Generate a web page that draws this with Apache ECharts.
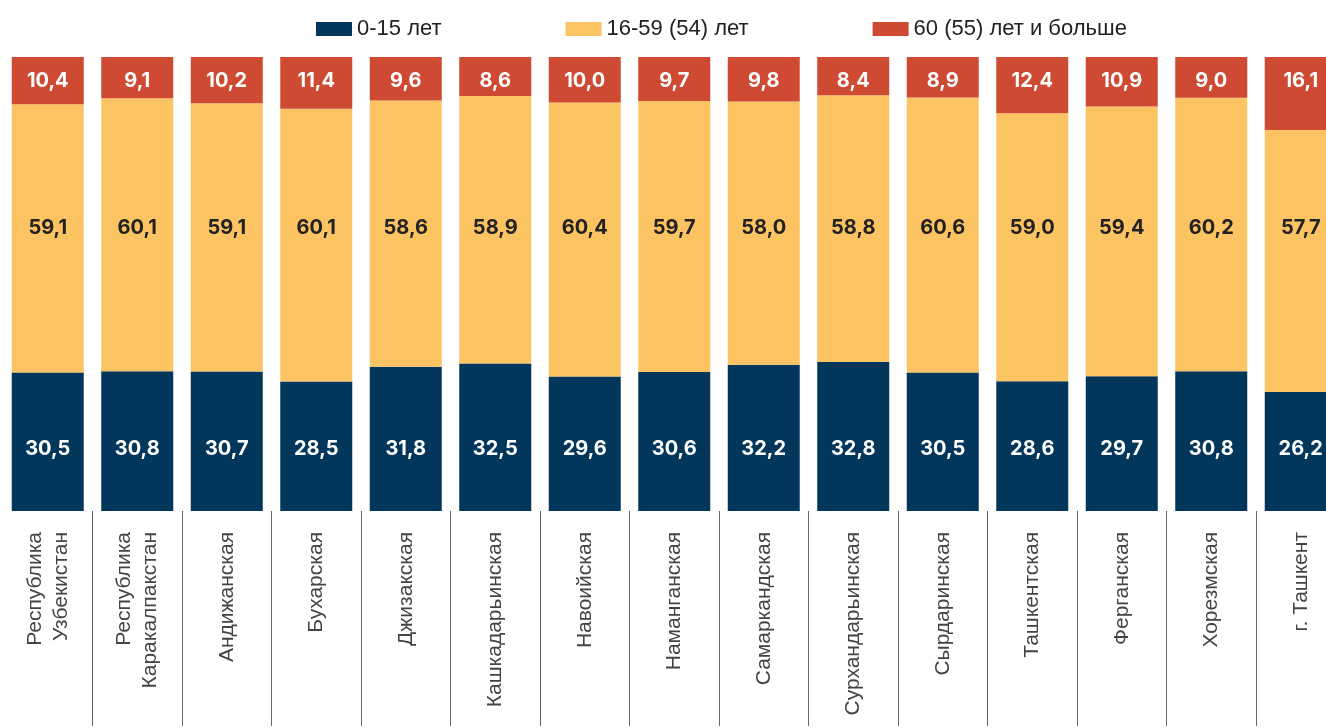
<!DOCTYPE html>
<html>
<head>
<meta charset="utf-8">
<script src="https://cdn.jsdelivr.net/npm/echarts@6/dist/echarts.min.js"></script>
<style>
  html, body { margin: 0; padding: 0; background: #fff; overflow: hidden; }
  #chart { width: 1346px; height: 728px; }
</style>
</head>
<body>
<div id="chart"></div>
<script>
var regions = ['Республика\nУзбекистан', 'Республика\nКаракалпакстан', 'Андижанская', 'Бухарская',
  'Джизакская', 'Кашкадарьинская', 'Навоийская', 'Наманганская', 'Самаркандская',
  'Сурхандарьинская', 'Сырдаринская', 'Ташкентская', 'Ферганская', 'Хорезмская', 'г. Ташкент'];
var young = [30.5, 30.8, 30.7, 28.5, 31.8, 32.5, 29.6, 30.6, 32.2, 32.8, 30.5, 28.6, 29.7, 30.8, 26.2];
var working = [59.1, 60.1, 59.1, 60.1, 58.6, 58.9, 60.4, 59.7, 58.0, 58.8, 60.6, 59.0, 59.4, 60.2, 57.7];
var old = [10.4, 9.1, 10.2, 11.4, 9.6, 8.6, 10.0, 9.7, 9.8, 8.4, 8.9, 12.4, 10.9, 9.0, 16.1];
// в оригинале подписи средней группы стоят на одной высоте
var workingLabelLevel = 62.3;

var myChart = echarts.init(document.getElementById('chart'));

function fmt(p) {
  return p.value.toFixed(1).replace('.', ',');
}
function lbl(color, position, distance) {
  return {
    show: true,
    position: position,
    distance: distance,
    formatter: fmt,
    color: color,
    fontFamily: 'Inter',
    fontWeight: 'bold',
    fontSize: 20
  };
}

var option = {
  animation: false,
  legend: {
    left: 311,
    top: 13,
    itemWidth: 36,
    itemHeight: 14,
    itemGap: 124,
    icon: 'rect',
    textStyle: { fontFamily: 'Liberation Sans', fontSize: 22, color: '#222' },
    data: ['0-15 лет', '16-59 (54) лет', '60 (55) лет и больше']
  },
  grid: { left: 3, right: 0.5, top: 57, bottom: 217 },
  xAxis: {
    type: 'category',
    data: regions,
    offset: 10,
    axisLine: { show: false },
    axisTick: {
      show: true,
      length: 215,
      interval: function (i) { return i > 0; },
      lineStyle: { color: '#666', width: 1 }
    },
    axisLabel: {
      rotate: 90,
      interval: 0,
      margin: 11,
      padding: [6, 0, 0, 0],
      fontFamily: 'Liberation Sans',
      fontSize: 21,
      lineHeight: 26,
      color: '#444'
    }
  },
  yAxis: {
    type: 'value',
    min: 0,
    max: 100,
    show: false,
    splitLine: { show: false }
  },
  series: [
    {
      name: '0-15 лет',
      type: 'bar',
      stack: 'all',
      barWidth: 72,
      data: young,
      itemStyle: { color: '#02365B' },
      label: lbl('#fff', 'insideBottom', 52)
    },
    {
      name: '16-59 (54) лет',
      type: 'bar',
      stack: 'all',
      data: working,
      itemStyle: { color: '#FCC363' },
      label: lbl('#222', 'inside', 5)
    },
    {
      name: '60 (55) лет и больше',
      type: 'bar',
      stack: 'all',
      data: old,
      itemStyle: { color: '#CE4A32' },
      label: lbl('#fff', 'insideTop', 14)
    }
  ]
};

myChart.setOption(option);

// сдвигаем подписи жёлтых столбцов на общий уровень через шкалу оси
var levelPx = myChart.convertToPixel({ yAxisIndex: 0 }, workingLabelLevel);
var workingData = working.map(function (v, i) {
  var mid = myChart.convertToPixel({ yAxisIndex: 0 }, young[i] + v / 2);
  return { value: v, label: { offset: [0, levelPx - mid] } };
});
myChart.setOption({ series: [{}, { data: workingData }, {}] });

window.onresize = myChart.resize;
</script>
</body>
</html>
